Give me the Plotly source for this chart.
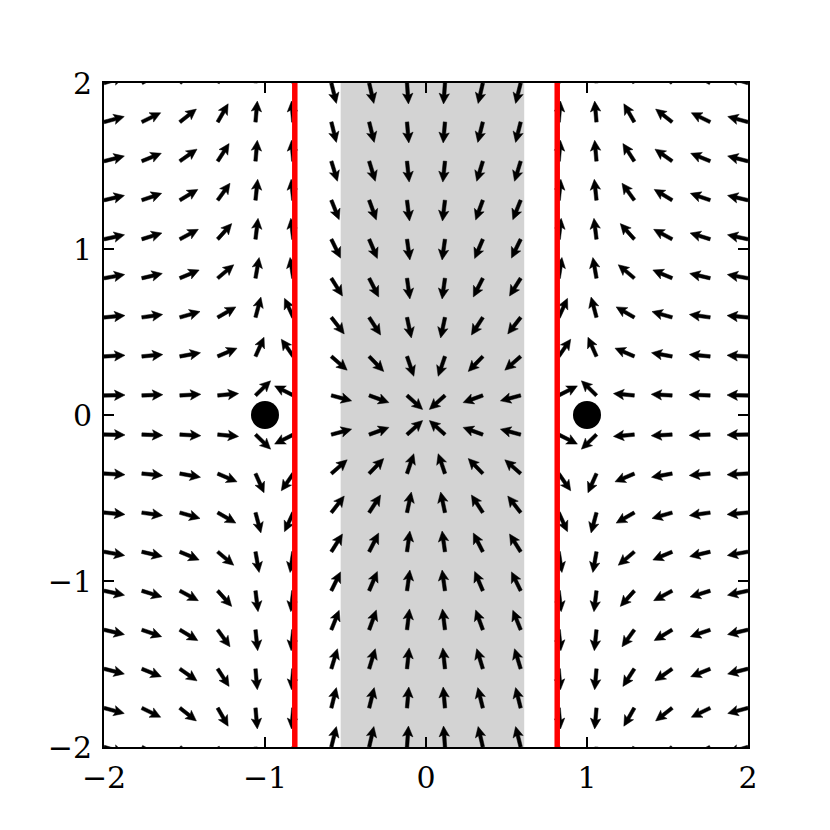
import math

import plotly.graph_objects as go

# Grid of arrow tails (pivot at tail), top row first
X_GRID = [-2.0, -1.765, -1.529, -1.294, -1.059, -0.824, -0.588, -0.353, -0.118,
          0.118, 0.353, 0.588, 0.824, 1.059, 1.294, 1.529, 1.765, 2.0]
Y_GRID = [2.0, 1.765, 1.529, 1.294, 1.059, 0.824, 0.588, 0.353, 0.118,
          -0.118, -0.353, -0.588, -0.824, -1.059, -1.294, -1.529, -1.765, -2.0]

# Arrow direction on screen, degrees counter-clockwise from +x (one list per row of Y_GRID)
ANGLES = [
    [16, 28, 40, 62, 86, 95, -76, -77, -86, -94, -103, -104, 85, 94, 118, 140, 152, 164],
    [15, 26, 38, 60, 85, 95, -76, -76, -85, -95, -104, -104, 85, 95, 120, 142, 154, 165],
    [14, 22, 35, 57, 85, 95, -73, -73, -84, -96, -107, -107, 85, 95, 123, 145, 158, 166],
    [13, 19, 31, 54, 84, 96, -68, -70, -83, -97, -110, -112, 84, 96, 126, 149, 161, 167],
    [12, 17, 28, 48, 83, 97, -64, -67, -82, -98, -113, -116, 83, 97, 132, 152, 163, 168],
    [10, 13, 23, 40, 80, 99, -58, -63, -82, -98, -117, -122, 81, 100, 140, 157, 167, 170],
    [5, 8, 16, 30, 75, 115, -52, -57, -78, -102, -123, -128, 65, 105, 150, 164, 172, 175],
    [3, 5, 10, 23, 66, 125, -41, -46, -71, -109, -134, -139, 55, 114, 157, 170, 175, 177],
    [1, 2, 3, 5, 44, 153, -15, -20, -42, -138, -160, -165, 27, 136, 175, 177, 178, 179],
    [-1, -2, -3, -5, -44, -153, 15, 20, 42, 138, 160, 165, -27, -136, -175, -177, -178, -179],
    [-3, -5, -10, -23, -66, -125, 41, 46, 71, 109, 134, 139, -55, -114, -157, -170, -175, -177],
    [-5, -8, -16, -30, -75, -115, 52, 57, 78, 102, 123, 128, -65, -105, -150, -164, -172, -175],
    [-10, -13, -23, -40, -80, -99, 58, 63, 82, 98, 117, 122, -81, -100, -140, -157, -167, -170],
    [-12, -17, -28, -48, -83, -97, 64, 67, 82, 98, 113, 116, -83, -97, -132, -152, -163, -168],
    [-13, -19, -31, -54, -84, -96, 68, 70, 83, 97, 110, 112, -84, -96, -126, -149, -161, -167],
    [-14, -22, -35, -57, -85, -95, 73, 73, 84, 96, 107, 107, -85, -95, -123, -145, -158, -166],
    [-15, -26, -38, -60, -85, -95, 76, 76, 85, 95, 104, 104, -85, -95, -120, -142, -154, -165],
    [-16, -28, -40, -62, -86, -95, 76, 77, 86, 94, 103, 104, -85, -94, -118, -140, -152, -164],
]

CHARGE_X = [-1.0, 1.0]
CHARGE_Y = [0.0, 0.0]
WALL_X = [-0.815, 0.815]
BAND_X = [-0.53, 0.61]

TICK_VALS = [-2, -1, 0, 1, 2]
TICK_TEXT = ["\u22122", "\u22121", "0", "1", "2"]

# Figure geometry (page body adds ~7px offset, margins compensate)
W, H = 830, 830
MARGIN = {"l": 96, "r": 90, "t": 75, "b": 91}
PX_X = (W - MARGIN["l"] - MARGIN["r"]) / 4.0   # pixels per data unit
PX_Y = (H - MARGIN["t"] - MARGIN["b"]) / 4.0

# Arrow shape in pixels (matplotlib-like quiver arrow)
ARROW_LEN = 21.0
SHAFT_HALF = 1.75
HEAD_HALF = 5.2
HEAD_LEN = 10.5
HEAD_AXIS = 9.0

SERIF = "DejaVu Serif"


def arrow_polygon(x0, y0, deg):
    """Return x, y lists for one filled arrow with its tail at (x0, y0)."""
    outline = [
        (0, -SHAFT_HALF),
        (ARROW_LEN - HEAD_AXIS, -SHAFT_HALF),
        (ARROW_LEN - HEAD_LEN, -HEAD_HALF),
        (ARROW_LEN, 0),
        (ARROW_LEN - HEAD_LEN, HEAD_HALF),
        (ARROW_LEN - HEAD_AXIS, SHAFT_HALF),
        (0, SHAFT_HALF),
        (0, -SHAFT_HALF),
    ]
    c, s = math.cos(math.radians(deg)), math.sin(math.radians(deg))
    xs, ys = [], []
    for a, p in outline:
        dx = a * c - p * s
        dy = a * s + p * c
        xs.append(x0 + dx / PX_X)
        ys.append(y0 + dy / PX_Y)
    return xs, ys


arrow_x, arrow_y = [], []
for j, y0 in enumerate(Y_GRID):
    for k, x0 in enumerate(X_GRID):
        xs, ys = arrow_polygon(x0, y0, ANGLES[j][k])
        arrow_x += xs + [None]
        arrow_y += ys + [None]

fig = go.Figure()

fig.add_shape(
    type="rect",
    xref="x",
    yref="y",
    x0=BAND_X[0],
    x1=BAND_X[1],
    y0=-2,
    y1=2,
    fillcolor="#d3d3d3",
    line=dict(width=0),
    layer="below",
)

fig.add_trace(
    go.Scatter(
        x=arrow_x,
        y=arrow_y,
        mode="lines",
        fill="toself",
        fillcolor="black",
        line=dict(color="black", width=0.5),
        hoverinfo="skip",
        showlegend=False,
    )
)

for wx in WALL_X:
    fig.add_trace(
        go.Scatter(
            x=[wx, wx],
            y=[-2, 2],
            mode="lines",
            line=dict(color="#ff0000", width=5.5),
            showlegend=False,
        )
    )

fig.add_trace(
    go.Scatter(
        x=CHARGE_X,
        y=CHARGE_Y,
        mode="markers",
        marker=dict(color="black", size=28),
        showlegend=False,
    )
)

axis_style = dict(
    range=[-2, 2],
    tickvals=TICK_VALS,
    ticktext=TICK_TEXT,
    showgrid=False,
    zeroline=False,
    showline=True,
    linecolor="black",
    linewidth=2,
    mirror="ticks",
    ticks="inside",
    ticklen=10,
    tickwidth=1.5,
    tickcolor="black",
    tickfont=dict(family=SERIF, size=30, color="black"),
    fixedrange=True,
)

fig.update_layout(
    width=W,
    height=H,
    margin=MARGIN,
    paper_bgcolor="white",
    plot_bgcolor="white",
    xaxis=dict(**axis_style, ticklabelstandoff=3),
    yaxis=dict(**axis_style, ticklabelstandoff=4),
    showlegend=False,
)

fig.write_html("out.html")
